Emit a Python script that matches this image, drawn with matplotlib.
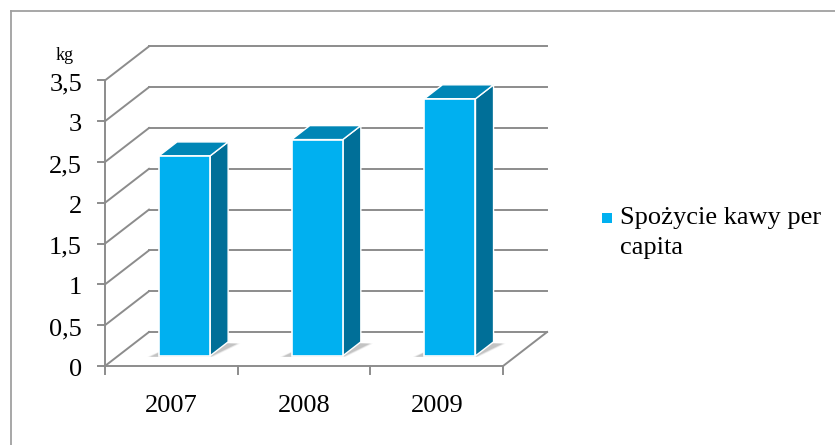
import matplotlib
matplotlib.use("Agg")
import matplotlib.pyplot as plt
from matplotlib.patches import Polygon, Rectangle
from matplotlib.lines import Line2D
import numpy as np

# ---- data ----
categories = ["2007", "2008", "2009"]
values = [2.45, 2.65, 3.15]
series_name = "Spożycie kawy per\ncapita"
y_ticks = [0, 0.5, 1, 1.5, 2, 2.5, 3, 3.5]
y_tick_labels = ["0", "0,5", "1", "1,5", "2", "2,5", "3", "3,5"]
unit_label = "kg"

# ---- style / geometry ----
W, H = 835, 445
FONT = "Liberation Serif"
FRONT = "#00B0F0"
TOP = "#0086B6"
SIDE = "#006F98"
GRID = "#8c8c8c"

# pixel scale of the front plane
X0_PX, Y0_PX = 105, 366          # origin of front plane in pixels
CAT_PX, VAL_PX = 132.7, 81.6     # pixels per category / per value unit
DEPTH_DX_PX, DEPTH_DY_PX = 44, 34
DX = DEPTH_DX_PX / CAT_PX
DY = DEPTH_DY_PX / VAL_PX
Z0, Z1 = 0.30, 0.71              # bar depth span
BAR_W = 0.385
YMAX = y_ticks[-1]
N = len(categories)

fig = plt.figure(figsize=(W / 100, H / 100), dpi=100)
ax = fig.add_axes([0, 0, 1, 1])
ax.set_xlim(-X0_PX / CAT_PX, (W - X0_PX) / CAT_PX)
ax.set_ylim((Y0_PX - H) / VAL_PX, Y0_PX / VAL_PX)
ax.axis("off")


def P(x, y, z):
    return (x + z * DX, y + z * DY)


# walls & gridlines
for v in y_ticks:
    ax.add_line(Line2D(*zip(P(0, v, 0), P(0, v, 1)), color=GRID, lw=1.4, zorder=1))
    ax.add_line(Line2D(*zip(P(0, v, 1), P(N, v, 1)), color=GRID, lw=1.4, zorder=1))
# floor right edge
ax.add_line(Line2D(*zip(P(N, 0, 0), P(N, 0, 1)), color=GRID, lw=1.4, zorder=1))
# front axes
ax.add_line(Line2D(*zip(P(0, 0, 0), P(N, 0, 0)), color=GRID, lw=1.4, zorder=5))
ax.add_line(Line2D(*zip(P(0, 0, 0), P(0, YMAX, 0)), color=GRID, lw=1.4, zorder=5))

# ticks
tick_len_x = 7 / CAT_PX
tick_len_y = 8 / VAL_PX
for v, lab in zip(y_ticks, y_tick_labels):
    ax.add_line(Line2D([-tick_len_x, 0], [v, v], color=GRID, lw=1.4, zorder=5))
    ax.text(-23 / CAT_PX, v - 4 / VAL_PX, lab, ha="right", va="center",
            fontsize=19, family=FONT, color="black")
for i in range(N + 1):
    ax.add_line(Line2D([i, i], [0, -tick_len_y], color=GRID, lw=1.4, zorder=5))
for i, c in enumerate(categories):
    ax.text(i + 0.5, -40 / VAL_PX, c, ha="center", va="center",
            fontsize=19, family=FONT, color="black")

ax.text(-40 / CAT_PX, (Y0_PX - 55) / VAL_PX, unit_label, ha="center", va="center",
        fontsize=13, family=FONT, color="black")

# bars
for i, v in enumerate(values):
    x0 = i + 0.5 - BAR_W / 2
    x1 = i + 0.5 + BAR_W / 2
    # shadow on floor
    for k, a in enumerate([0.05, 0.08, 0.12]):
        e = (3 - k) * 1.5 / CAT_PX
        shadow = [P(x0 - 6 / CAT_PX - e, 0, Z0 - 0.03), P(x1 + e, 0, Z0 - 0.03),
                  P(x1 + 10 / CAT_PX + e, 0, Z1 - 0.05), P(x0 + 4 / CAT_PX, 0, Z1)]
        ax.add_patch(Polygon(shadow, closed=True, fc="black", ec="none", alpha=a, zorder=2))
    front = [P(x0, 0, Z0), P(x1, 0, Z0), P(x1, v, Z0), P(x0, v, Z0)]
    side = [P(x1, 0, Z0), P(x1, 0, Z1), P(x1, v, Z1), P(x1, v, Z0)]
    top = [P(x0, v, Z0), P(x1, v, Z0), P(x1, v, Z1), P(x0, v, Z1)]
    ax.add_patch(Polygon(side, closed=True, fc=SIDE, ec="white", lw=1.0, zorder=3))
    ax.add_patch(Polygon(top, closed=True, fc=TOP, ec="white", lw=1.0, zorder=3))
    ax.add_patch(Polygon(front, closed=True, fc=FRONT, ec="white", lw=1.2, zorder=4))

# legend
ax.add_patch(Rectangle(((602 - X0_PX) / CAT_PX, (Y0_PX - 223) / VAL_PX),
                       10 / CAT_PX, 10 / VAL_PX, fc=FRONT, ec="none", zorder=5))
ax.text((620 - X0_PX) / CAT_PX, (Y0_PX - 207) / VAL_PX, series_name,
        ha="left", va="top", fontsize=19, family=FONT, color="black",
        linespacing=1.45)

# chart-area border (top & left visible)
fig.add_artist(Line2D([11 / W, 11 / W], [0, 1 - 11 / H], transform=fig.transFigure,
                      color="#a0a0a0", lw=1.3))
fig.add_artist(Line2D([11 / W, 1], [1 - 11 / H, 1 - 11 / H], transform=fig.transFigure,
                      color="#a0a0a0", lw=1.3))

fig.savefig("out.png", dpi=100, facecolor="white")
